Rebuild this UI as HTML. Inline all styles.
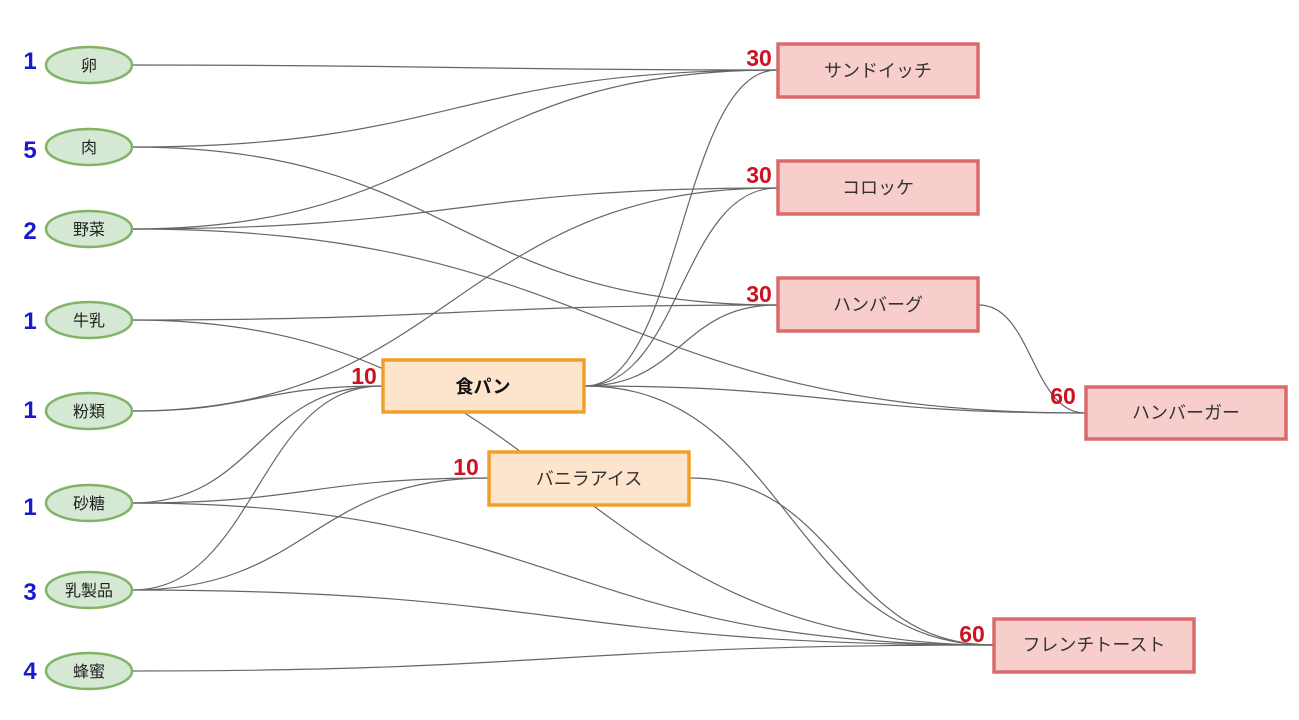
<!DOCTYPE html>
<html><head><meta charset="utf-8"><style>
html,body{margin:0;padding:0;background:#fff;}
svg{display:block;}
text{font-family:"Liberation Sans","Noto Sans CJK JP",sans-serif;}
</style></head><body>
<svg width="1299" height="720" viewBox="0 0 1299 720" xmlns="http://www.w3.org/2000/svg">
<g fill="none" stroke="#666" stroke-width="1.2">
<path d="M132 65 C454 65 454 70 777 70"/>
<path d="M132 147 C454 147 454 70 777 70"/>
<path d="M132 147 C454 147 454 305 777 305"/>
<path d="M132 229 C454 229 454 70 777 70"/>
<path d="M132 229 C454 229 454 188 777 188"/>
<path d="M132 229 C608 229 608 413 1085 413"/>
<path d="M132 320 C454 320 454 305 777 305"/>
<path d="M132 320 C562 320 562 645 993 645"/>
<path d="M132 411 C454 411 454 188 777 188"/>
<path d="M132 411 C257 411 257 386 382 386"/>
<path d="M132 503 C257 503 257 386 382 386"/>
<path d="M132 503 C310 503 310 478 488 478"/>
<path d="M132 503 C562 503 562 645 993 645"/>
<path d="M132 590 C257 590 257 386 382 386"/>
<path d="M132 590 C310 590 310 478 488 478"/>
<path d="M132 590 C562 590 562 645 993 645"/>
<path d="M132 671 C562 671 562 645 993 645"/>
<path d="M585 386 C681 386 681 70 777 70"/>
<path d="M585 386 C681 386 681 188 777 188"/>
<path d="M585 386 C681 386 681 305 777 305"/>
<path d="M585 386 C835 386 835 413 1085 413"/>
<path d="M585 386 C789 386 789 645 993 645"/>
<path d="M690 478 C841 478 841 645 993 645"/>
<path d="M979 305 C1032 305 1032 413 1085 413"/>
</g>
<g fill="#d5e8d4" stroke="#82b366" stroke-width="2.5">
<ellipse cx="89" cy="65" rx="43" ry="18"/>
<ellipse cx="89" cy="147" rx="43" ry="18"/>
<ellipse cx="89" cy="229" rx="43" ry="18"/>
<ellipse cx="89" cy="320" rx="43" ry="18"/>
<ellipse cx="89" cy="411" rx="43" ry="18"/>
<ellipse cx="89" cy="503" rx="43" ry="18"/>
<ellipse cx="89" cy="590" rx="43" ry="18"/>
<ellipse cx="89" cy="671" rx="43" ry="18"/>
</g>
<g font-size="16" fill="#222" text-anchor="middle">
<text x="89" y="71">卵</text>
<text x="89" y="153">肉</text>
<text x="89" y="235">野菜</text>
<text x="89" y="326">牛乳</text>
<text x="89" y="417">粉類</text>
<text x="89" y="509">砂糖</text>
<text x="89" y="596">乳製品</text>
<text x="89" y="677">蜂蜜</text>
</g>
<g font-size="24" font-weight="bold" fill="#1a1acc" text-anchor="middle">
<text x="30" y="69">1</text>
<text x="30" y="158">5</text>
<text x="30" y="239">2</text>
<text x="30" y="329">1</text>
<text x="30" y="418">1</text>
<text x="30" y="515">1</text>
<text x="30" y="600">3</text>
<text x="30" y="679">4</text>
</g>
<g fill="#f8cecc" stroke="#d96b6b" stroke-width="3.5">
<rect x="778" y="44" width="200" height="53"/>
<rect x="778" y="161" width="200" height="53"/>
<rect x="778" y="278" width="200" height="53"/>
<rect x="1086" y="387" width="200" height="52"/>
<rect x="994" y="619" width="200" height="53"/>
</g>
<g fill="#fde4cc" stroke="#f0a02a" stroke-width="3.5">
<rect x="383" y="360" width="201" height="52"/>
<rect x="489" y="452" width="200" height="53"/>
</g>
<g font-size="18" fill="#333" text-anchor="middle">
<text x="878" y="77">サンドイッチ</text>
<text x="878" y="194">コロッケ</text>
<text x="878" y="311">ハンバーグ</text>
<text x="1186" y="419">ハンバーガー</text>
<text x="1094" y="651">フレンチトースト</text>
<text x="483" y="393" font-weight="bold" fill="#111">食パン</text>
<text x="589" y="485">バニラアイス</text>
</g>
<g font-size="23" font-weight="bold" fill="#cc1122" text-anchor="middle">
<text x="759" y="66">30</text>
<text x="759" y="183">30</text>
<text x="759" y="302">30</text>
<text x="1063" y="404">60</text>
<text x="972" y="642">60</text>
<text x="364" y="384">10</text>
<text x="466" y="475">10</text>
</g>
</svg>
</body></html>
